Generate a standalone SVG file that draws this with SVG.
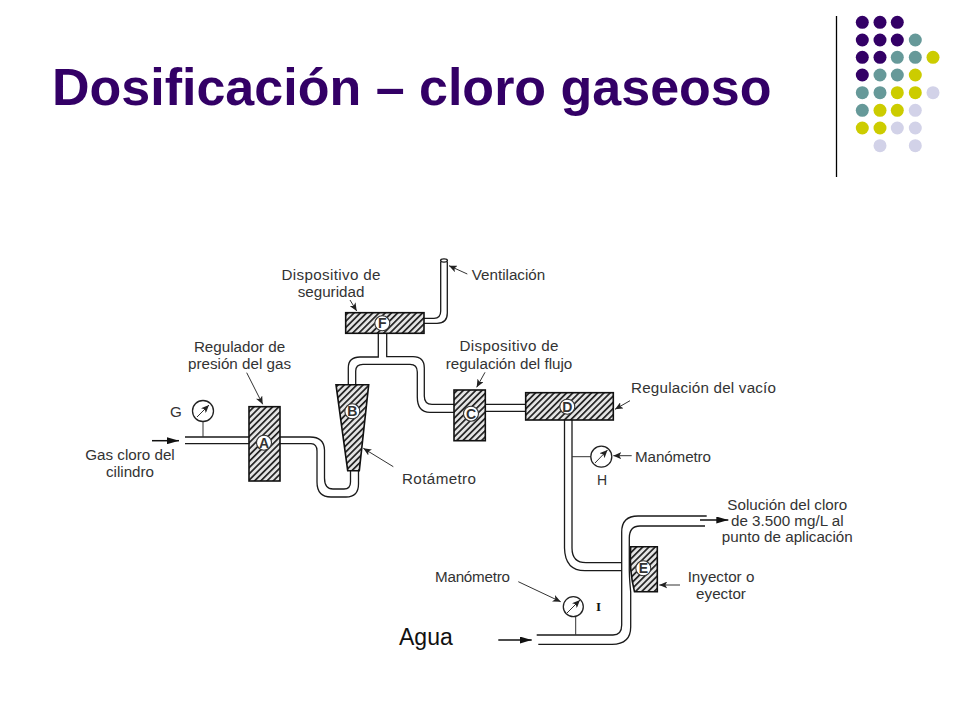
<svg xmlns="http://www.w3.org/2000/svg" width="960" height="720" viewBox="0 0 960 720">
<style>
text{font-family:"Liberation Sans",Arial,sans-serif;fill:#333;font-size:15.2px}
.m{text-anchor:middle}
.title{font-size:52px;font-weight:700;fill:#330066}
.w{fill:none;stroke:#1a1a1a;stroke-width:1.3}
.t{fill:none;stroke:#333;stroke-width:1}
.box{fill:url(#h);stroke:#111;stroke-width:1.6}
.c{fill:#fff;stroke:#333;stroke-width:1.1}
.l{font-size:14px;font-weight:700;text-anchor:middle;fill:#333}
.g{fill:#fff;stroke:#222;stroke-width:1.3}
.p{fill:#330066}.e{fill:#669999}.y{fill:#cccc00}.v{fill:#d2d2e8}
</style>
<defs>
<pattern id="h" width="4.4" height="4.4" patternUnits="userSpaceOnUse" patternTransform="rotate(45)"><rect width="4.4" height="4.4" fill="#e4e4e4"/><rect width="1.7" height="4.4" fill="#222"/></pattern>
<marker id="a" markerWidth="9" markerHeight="7" refX="8" refY="3.5" orient="auto" markerUnits="userSpaceOnUse"><path d="M0 0 8 3.5 0 7 2 3.5z" fill="#222"/></marker>
<marker id="b" markerWidth="13" markerHeight="7" refX="12" refY="3.5" orient="auto" markerUnits="userSpaceOnUse"><path d="M0 0 12 3.5 0 7z" fill="#111"/></marker>
</defs>
<rect width="960" height="720" fill="#fff"/>
<text class="title" x="52" y="105">Dosificación – cloro gaseoso</text>
<path d="M836.5 16V177" stroke="#000" stroke-width="1.3"/>
<g id="dots">
<circle class="p" cx="862.3" cy="22.3" r="6.5"/><circle class="p" cx="880" cy="22.3" r="6.5"/><circle class="p" cx="897.3" cy="22.3" r="6.5"/>
<circle class="p" cx="862.3" cy="40" r="6.5"/><circle class="p" cx="880" cy="40" r="6.5"/><circle class="p" cx="897.3" cy="40" r="6.5"/><circle class="e" cx="915.3" cy="40" r="6.5"/>
<circle class="p" cx="862.3" cy="57.3" r="6.5"/><circle class="p" cx="880" cy="57.3" r="6.5"/><circle class="e" cx="897.3" cy="57.3" r="6.5"/><circle class="e" cx="915.3" cy="57.3" r="6.5"/><circle class="y" cx="933" cy="57.3" r="6.5"/>
<circle class="p" cx="862.3" cy="75" r="6.5"/><circle class="e" cx="880" cy="75" r="6.5"/><circle class="e" cx="897.3" cy="75" r="6.5"/><circle class="y" cx="915.3" cy="75" r="6.5"/>
<circle class="e" cx="862.3" cy="92.7" r="6.5"/><circle class="e" cx="880" cy="92.7" r="6.5"/><circle class="y" cx="897.3" cy="92.7" r="6.5"/><circle class="y" cx="915.3" cy="92.7" r="6.5"/><circle class="v" cx="933" cy="92.7" r="6.5"/>
<circle class="e" cx="862.3" cy="110.3" r="6.5"/><circle class="y" cx="880" cy="110.3" r="6.5"/><circle class="y" cx="897.3" cy="110.3" r="6.5"/><circle class="v" cx="915.3" cy="110.3" r="6.5"/>
<circle class="y" cx="862.3" cy="128" r="6.5"/><circle class="y" cx="880" cy="128" r="6.5"/><circle class="v" cx="897.3" cy="128" r="6.5"/><circle class="v" cx="915.3" cy="128" r="6.5"/>
<circle class="v" cx="880" cy="145.7" r="6.5"/><circle class="v" cx="915.3" cy="145.7" r="6.5"/>
</g>
<g id="connectors">
<path class="w" d="M185 437H249M185 443.7H249"/>
<path class="w" d="M280 437H310Q324 437 324.5 450V478Q324.5 489 333 489H344Q350.5 489 350.5 482V471"/>
<path class="w" d="M280 443.7H311Q317 444 317 451V482Q317 497 331 497H346Q358.5 497 358.5 484V471"/>
<path class="w" d="M348.3 385V368Q348.3 357 360 357H378.3V333M355.7 385V371Q355.7 364.3 363 364.3H410Q417.3 364.3 417.3 372V397Q417.3 412.3 430 412.3H454M386.7 333V356.7H413Q424.3 356.7 424.3 368V396Q424.3 404.3 432 404.3H454"/>
<path class="w" d="M424 318.3H434Q440.7 318.3 440.7 311V261.7M424 323.3H437Q447.3 323.3 447.3 313V261.7"/>
<ellipse class="w" cx="444" cy="260.5" rx="3.4" ry="1.6"/>
<path class="w" d="M485.3 404.3H525.7M485.3 411.3H525.7"/>
<path class="w" d="M564.5 420V548Q565 570.7 585 570.7H621.7M572 420V548Q572 562.7 586 562.7H621.7"/>
<path class="w" d="M536.7 635H613Q621.7 635 621.7 625V532Q621.7 516 638 516H706.7"/>
<path class="w" d="M538.3 644.3H612Q630.7 644.3 630.7 627V592Q629 575 629.3 565V538Q629.3 526 640 526H705"/>
<path class="t" d="M203 421V437M572 456.7H591M575.7 616.7V635"/>
<path d="M152 440.7H179" fill="none" stroke="#111" stroke-width="1.5" marker-end="url(#b)"/>
<path d="M498.3 640H531.7" fill="none" stroke="#111" stroke-width="1.5" marker-end="url(#b)"/>
<path d="M700 520H728.3" fill="none" stroke="#111" stroke-width="1.5" marker-end="url(#b)"/>
<path class="t" marker-end="url(#a)" d="M467.3 274 449 265.7"/>
<path class="t" marker-end="url(#a)" d="M350 300 356.7 311"/>
<path class="t" marker-end="url(#a)" d="M246.7 372.7 262.7 404.3"/>
<path class="t" marker-end="url(#a)" d="M393.3 466.7 363.3 448.3"/>
<path class="t" marker-end="url(#a)" d="M485 372.3 476.7 387.3"/>
<path class="t" marker-end="url(#a)" d="M630 400.7 615 409.3"/>
<path class="t" marker-end="url(#a)" d="M631.7 455.7H613.3"/>
<path class="t" marker-end="url(#a)" d="M518.3 581.7 560.7 601.7"/>
<path class="t" marker-end="url(#a)" d="M680 585H659.3"/>
</g>
<g id="node-A"><rect class="box" x="249" y="406.7" width="31" height="74.3"/><circle class="c" cx="264" cy="442.7" r="7.5"/><text class="l" x="264" y="447.7">A</text></g>
<g id="node-B"><path class="box" d="M336 384.7H368.7L359.3 470.7H347.7Z"/><circle class="c" cx="352.3" cy="411.3" r="7.5"/><text class="l" x="352.3" y="416.3">B</text></g>
<g id="node-C"><rect class="box" x="454" y="390" width="31.3" height="50.7"/><circle class="c" cx="471" cy="413.7" r="7.5"/><text class="l" x="471" y="418.7">C</text></g>
<g id="node-D"><rect class="box" x="525.7" y="392.7" width="87.6" height="27.3"/><circle class="c" cx="567.3" cy="406.7" r="7.5"/><text class="l" x="567.3" y="411.7">D</text></g>
<g id="node-E"><path class="box" d="M630.7 546.7H657.3V591.7H634.5Q629 570 630.7 546.7Z"/><circle class="c" cx="643.3" cy="568.3" r="7.5"/><text class="l" x="643.3" y="573.3">E</text></g>
<g id="node-F"><rect class="box" x="345.7" y="312.7" width="78.3" height="20.6"/><circle class="c" cx="382.3" cy="323.3" r="7.5"/><text class="l" x="382.3" y="328.3">F</text></g>
<g id="gauge-G"><circle class="g" cx="203" cy="411" r="10.5"/><path class="t" marker-end="url(#a)" d="M197 417 209 405"/></g>
<g id="gauge-H"><circle class="g" cx="601.3" cy="456.7" r="10.5"/><path class="t" marker-end="url(#a)" d="M595 463 607.5 450"/></g>
<g id="gauge-I"><circle class="g" cx="573.3" cy="606.7" r="10"/><path class="t" marker-end="url(#a)" d="M567 613 580 600"/></g>
<g id="labels">
<text class="m" x="331" y="279.5" textLength="99">Dispositivo de</text>
<text class="m" x="331" y="296.5">seguridad</text>
<text x="471.7" y="280" textLength="73.5">Ventilación</text>
<text class="m" x="239.5" y="351.5">Regulador de</text>
<text class="m" x="239.5" y="369">presión del gas</text>
<text class="m" x="509" y="351" textLength="99">Dispositivo de</text>
<text class="m" x="509" y="368.5">regulación del flujo</text>
<text x="631" y="393" textLength="145">Regulación del vacío</text>
<text x="170" y="417">G</text>
<text class="m" x="130" y="459.5">Gas cloro del</text>
<text class="m" x="130" y="476.5">cilindro</text>
<text x="402" y="484" textLength="74">Rotámetro</text>
<text x="635" y="462" textLength="76">Manómetro</text>
<text x="597" y="485" style="font-size:14px">H</text>
<text class="m" x="787.3" y="509.5">Solución del cloro</text>
<text class="m" x="787.3" y="526">de 3.500 mg/L al</text>
<text class="m" x="787.3" y="542">punto de aplicación</text>
<text x="435" y="582" textLength="75">Manómetro</text>
<text class="m" x="721" y="582">Inyector o</text>
<text class="m" x="721" y="599">eyector</text>
<text x="596" y="611" style="font-family:'Liberation Serif',serif;font-weight:700;font-size:13px;fill:#111">I</text>
<text x="399" y="645" style="font-size:23px;fill:#111">Agua</text>
</g>
</svg>
